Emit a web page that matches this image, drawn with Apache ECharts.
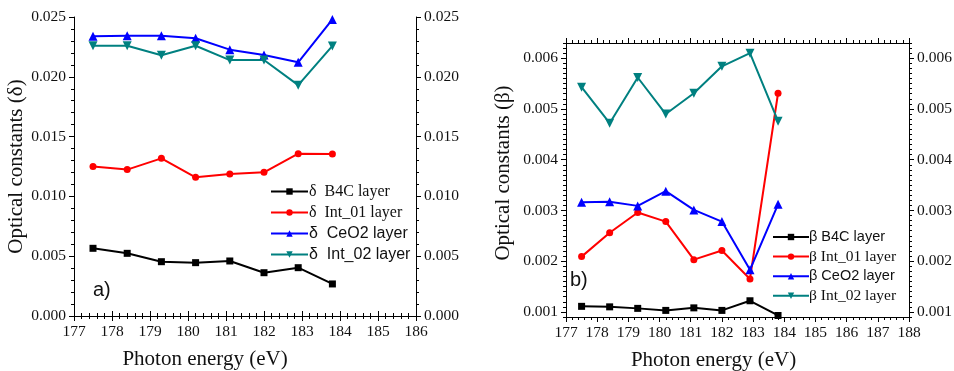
<!DOCTYPE html>
<html><head><meta charset="utf-8">
<script src="https://cdn.jsdelivr.net/npm/echarts@6/dist/echarts.min.js"></script>
<style>html,body{margin:0;padding:0;background:#fff}#c{width:954px;height:371px}</style>
</head><body><div id="c"></div>
<script>
const energy = [177.5, 178.4, 179.3, 180.2, 181.1, 182.0, 182.9, 183.8];
const deltaB4C   = [0.00566, 0.00524, 0.00454, 0.00446, 0.00460, 0.00362, 0.00404, 0.00268];
const deltaInt01 = [0.01249, 0.01224, 0.01318, 0.01160, 0.01187, 0.01201, 0.01357, 0.01354];
const deltaCeO2  = [0.02339, 0.02344, 0.02344, 0.02322, 0.02227, 0.02182, 0.02121, 0.02480];
const deltaInt02 = [0.02260, 0.02260, 0.02180, 0.02260, 0.02140, 0.02140, 0.01930, 0.02258];
const betaB4C    = [0.00111, 0.00110, 0.00107, 0.00103, 0.00108, 0.00103, 0.00122, 0.00093];
const betaInt01  = [0.00209, 0.00256, 0.00296, 0.00278, 0.00203, 0.00221, 0.00165, 0.00531];
const betaCeO2   = [0.00316, 0.00317, 0.00309, 0.00338, 0.00301, 0.00278, 0.00183, 0.00312];
const betaInt02  = [0.00543, 0.00472, 0.00562, 0.00490, 0.00531, 0.00584, 0.00610, 0.00476];
const betaTicks  = [0.001, 0.002, 0.003, 0.004, 0.005, 0.006];

const SERIF = 'Liberation Serif';
const SANS = 'Liberation Sans';
const INK = '#111';
const pairs = a => energy.map((x, i) => [x, a[i]]);

const axisBase = {
  axisLine: {show: true, lineStyle: {color: '#000', width: 1}},
  splitLine: {show: false},
  axisLabel: {color: INK, fontFamily: SERIF, fontSize: 15.5, margin: 8},
};
function xAx(grid, min, max, pos, labels, name, pad) {
  return Object.assign({}, axisBase, {
    type: 'value', gridIndex: grid, min, max, interval: 1, position: pos,
    axisTick: {show: true, inside: false, length: 5, lineStyle: {color: '#000'}},
    minorTick: {show: true, splitNumber: 5, length: 3, lineStyle: {color: '#000'}},
    axisLabel: Object.assign({}, axisBase.axisLabel, {show: labels, formatter: v => String(v)}),
    name: name || '', nameLocation: 'middle', nameGap: 33,
    nameTextStyle: {fontFamily: SERIF, fontSize: 21, color: INK, padding: [0, pad || 0, 0, 0]}
  });
}
const lineStyleFor = c => ({color: c, width: 2});
function mk(name, data, color, symbol, size, xi, yi, rot) {
  return {
    name, type: 'line', data: pairs(data), xAxisIndex: xi, yAxisIndex: yi,
    symbol, symbolSize: size, symbolRotate: rot || 0,
    itemStyle: {color}, lineStyle: lineStyleFor(color), z: 3
  };
}

const option = {
  animation: false,
  backgroundColor: '#fff',
  grid: [
    {left: 74, top: 17, width: 342, height: 299, show: false, outerBoundsMode: 'none', containLabel: false},
    {left: 566, top: 43, width: 343, height: 274, show: false, outerBoundsMode: 'none', containLabel: false}
  ],
  xAxis: [
    xAx(0, 177, 186, 'bottom', true, 'Photon energy (eV)', 80),
    xAx(0, 177, 186, 'top', false),
    xAx(1, 177, 188, 'bottom', true, 'Photon energy (eV)', 48),
    xAx(1, 177, 188, 'top', false)
  ],
  yAxis: [
    Object.assign({}, axisBase, {
      type: 'value', gridIndex: 0, min: 0, max: 0.025, interval: 0.005, position: 'left',
      axisTick: {show: true, length: 5, lineStyle: {color: '#000'}},
      minorTick: {show: true, splitNumber: 5, length: 3, lineStyle: {color: '#000'}},
      axisLabel: Object.assign({}, axisBase.axisLabel, {formatter: v => v.toFixed(3)}),
      name: 'Optical constants (δ)', nameLocation: 'middle', nameGap: 47,
      nameTextStyle: {fontFamily: SERIF, fontSize: 21, color: INK}
    }),
    Object.assign({}, axisBase, {
      type: 'value', gridIndex: 0, min: 0, max: 0.025, interval: 0.005, position: 'right',
      axisTick: {show: true, length: 5, lineStyle: {color: '#000'}},
      minorTick: {show: true, splitNumber: 5, length: 3, lineStyle: {color: '#000'}},
      axisLabel: Object.assign({}, axisBase.axisLabel, {formatter: v => v.toFixed(3)})
    }),
    Object.assign({}, axisBase, {
      type: 'value', gridIndex: 1, min: 0.0009, max: 0.0063, interval: 0.0001, position: 'left',
      axisTick: {show: true, length: 3, lineStyle: {color: '#000'}},
      axisLabel: {show: false},
      name: 'Optical constants (β)', nameLocation: 'middle', nameGap: 52,
      nameTextStyle: {fontFamily: SERIF, fontSize: 21, color: INK, padding: [0, 0, 0, 14]}
    }),
    Object.assign({}, axisBase, {
      type: 'value', gridIndex: 1, min: 0.0009, max: 0.0063, interval: 0.0001, position: 'right',
      axisTick: {show: true, length: 3, lineStyle: {color: '#000'}},
      axisLabel: {show: false}
    }),
    Object.assign({}, axisBase, {
      type: 'value', gridIndex: 1, min: 0.0009, max: 0.0063, position: 'left',
      axisLine: {show: false},
      axisTick: {show: true, length: 5, customValues: betaTicks, lineStyle: {color: '#000'}},
      axisLabel: Object.assign({}, axisBase.axisLabel, {customValues: betaTicks, formatter: v => v.toFixed(3)})
    }),
    Object.assign({}, axisBase, {
      type: 'value', gridIndex: 1, min: 0.0009, max: 0.0063, position: 'right',
      axisLine: {show: false},
      axisTick: {show: true, length: 5, customValues: betaTicks, lineStyle: {color: '#000'}},
      axisLabel: Object.assign({}, axisBase.axisLabel, {customValues: betaTicks, formatter: v => v.toFixed(3)})
    })
  ],
  legend: [
    {
      orient: 'vertical', left: 270, top: 183.5, padding: 0, itemWidth: 37, itemHeight: 8, itemGap: 5,
      textStyle: {fontSize: 16, color: INK, fontFamily: SERIF, padding: [0, 0, 0, -4]},
      data: [
        {name: 'δ  B4C layer', textStyle: {fontFamily: SERIF}},
        {name: 'δ  Int_01 layer', textStyle: {fontFamily: SERIF}},
        {name: 'δ  CeO2 layer', textStyle: {fontFamily: SANS}},
        {name: 'δ  Int_02 layer', textStyle: {fontFamily: SANS}}
      ]
    },
    {
      orient: 'vertical', left: 772, top: 229.5, padding: 0, itemWidth: 36, itemHeight: 8, itemGap: 4.1,
      textStyle: {fontSize: 14.5, color: INK, fontFamily: SANS, padding: [0, 0, 0, -5]},
      data: [
        {name: 'β B4C layer', textStyle: {fontFamily: SANS}},
        {name: 'β Int_01 layer', textStyle: {fontFamily: SERIF, fontSize: 15.5}},
        {name: 'β CeO2 layer', textStyle: {fontFamily: SANS}},
        {name: 'β Int_02 layer', textStyle: {fontFamily: SERIF, fontSize: 15.5}}
      ]
    }
  ],
  graphic: [
    {type: 'text', left: 93, top: 280, style: {text: 'a)', font: '20px "Liberation Sans"', fill: INK}},
    {type: 'text', left: 570, top: 270, style: {text: 'b)', font: '20px "Liberation Sans"', fill: INK}}
  ],
  series: [
    mk('δ  B4C layer', deltaB4C, '#000000', 'rect', 7, 0, 0),
    mk('δ  Int_01 layer', deltaInt01, '#ff0000', 'circle', 7, 0, 0),
    mk('δ  CeO2 layer', deltaCeO2, '#0000ff', 'triangle', 9, 0, 0),
    mk('δ  Int_02 layer', deltaInt02, '#008080', 'triangle', 9, 0, 0, 180),
    mk('β B4C layer', betaB4C, '#000000', 'rect', 7, 2, 2),
    mk('β Int_01 layer', betaInt01, '#ff0000', 'circle', 7, 2, 2),
    mk('β CeO2 layer', betaCeO2, '#0000ff', 'triangle', 9, 2, 2),
    mk('β Int_02 layer', betaInt02, '#008080', 'triangle', 9, 2, 2, 180)
  ]
};
const chart = echarts.init(document.getElementById('c'), null, {renderer: 'canvas'});
chart.setOption(option);
</script></body></html>
